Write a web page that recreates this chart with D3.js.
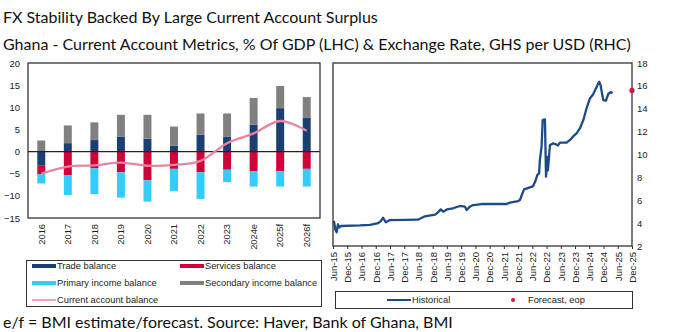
<!DOCTYPE html>
<html><head><meta charset="utf-8">
<script src="https://cdn.jsdelivr.net/npm/d3@7"></script>
<style>
html,body{margin:0;padding:0;background:#fff;overflow:hidden;}
svg{display:block;}
</style></head>
<body>
<svg id="chart" width="675" height="332"></svg>
<script>
// ---------- DATA ----------
const categories = ["2016","2017","2018","2019","2020","2021","2022","2023","2024e","2025f","2026f"];
const tradeBalance     = [-3.2, 1.9, 2.6, 3.4, 2.9, 1.35, 3.8, 3.4, 6.1, 9.8, 7.6];
const servicesBalance  = [-1.9,-5.4,-3.8,-4.7,-6.5,-3.9,-4.7,-4.1,-4.4,-4.4,-3.9];
const primaryIncome    = [-2.1,-4.4,-5.8,-5.7,-4.8,-5.0,-6.0,-2.8,-3.5,-3.5,-4.0];
const secondaryIncome  = [ 2.5, 4.0, 4.0, 4.9, 5.4, 4.3, 4.8, 5.2, 6.0, 5.0, 4.7];
const currentAccount   = [-5.0,-3.4,-3.1,-2.5,-3.2,-3.0,-2.1, 1.9, 4.1, 6.9, 4.7];
const leftTicks = [20,15,10,5,0,-5,-10,-15];

const fxDates = ["2015-06-13","2015-07-02","2015-07-18","2015-08-04","2015-08-16","2015-09-12","2016-05-12","2016-09-18","2017-01-01","2017-02-06","2017-03-03","2017-04-10","2017-06-01","2018-05-25","2018-08-24","2019-01-01","2019-02-06","2019-03-15","2019-04-15","2019-06-01","2019-08-18","2019-11-15","2020-01-18","2020-02-10","2020-03-22","2020-05-03","2020-08-21","2021-07-06","2021-08-18","2021-12-01","2021-12-24","2022-02-15","2022-05-01","2022-06-12","2022-07-16","2022-08-03","2022-08-27","2022-09-06","2022-09-28","2022-10-12","2022-11-10","2022-11-24","2022-12-10","2022-12-18","2023-01-13","2023-02-25","2023-04-28","2023-05-21","2023-08-15","2023-09-28","2023-11-10","2023-12-21","2024-02-03","2024-03-16","2024-04-27","2024-06-09","2024-07-21","2024-08-25","2024-09-24","2024-10-06","2024-10-24","2024-11-15","2024-11-27","2025-01-01","2025-01-31","2025-03-02","2025-03-26"];
const fxValues = [4.2,3.4,3.2,3.9,3.6,3.75,3.8,3.85,4.0,4.2,4.47,4.07,4.27,4.3,4.6,4.75,4.94,5.2,5.0,5.2,5.3,5.5,5.44,5.15,5.44,5.58,5.67,5.67,5.79,5.93,6.02,6.95,7.13,7.24,7.77,8.2,8.35,9.5,10.7,13.0,13.07,8.06,9.8,8.6,10.8,10.98,10.8,11.03,11.03,11.27,11.6,11.85,12.3,13.0,14.04,14.9,15.26,15.78,16.2,16.36,16.07,15.2,14.76,14.7,15.29,15.46,15.35];
const forecastDate = "2025-12-01";
const forecastValue = 15.6;
const rightTicks = [2,4,6,8,10,12,14,16,18];
const rightXTickDates = ["2015-06-01","2015-12-01","2016-06-01","2016-12-01","2017-06-01","2017-12-01","2018-06-01","2018-12-01","2019-06-01","2019-12-01","2020-06-01","2020-12-01","2021-06-01","2021-12-01","2022-06-01","2022-12-01","2023-06-01","2023-12-01","2024-06-01","2024-12-01","2025-06-01","2025-12-01"];

const title = "FX Stability Backed By Large Current Account Surplus";
const subtitle = "Ghana - Current Account Metrics, % Of GDP (LHC) & Exchange Rate, GHS per USD (RHC)";
const footer = "e/f = BMI estimate/forecast. Source: Haver, Bank of Ghana, BMI";

// ---------- STYLE ----------
const C = {trade:"#1b3f72", services:"#d10038", primary:"#33ccff", secondary:"#808080", ca:"#e8849f", fx:"#1c4b86", fcst:"#e0103c", frame:"#333"};
const AX = "'Liberation Sans', Arial, sans-serif";
const TF = "Lato, 'Noto Sans', sans-serif";

const svg = d3.select("#chart");

svg.append("text").attr("x",3).attr("y",23).attr("font-family",TF).attr("font-size",16).attr("fill","#111").text(title);
svg.append("text").attr("x",3).attr("y",50).attr("font-family",TF).attr("font-size",16).attr("fill","#111").text(subtitle);
svg.append("text").attr("x",3).attr("y",328).attr("font-family",TF).attr("font-size",16).attr("fill","#111").text(footer);

// ---------- LEFT CHART ----------
const L = {x0:28, x1:320, y0:63, y1:218};
const x = d3.scaleBand().domain(categories).range([L.x0, L.x1]).paddingInner(0.7).paddingOuter(0.35);
const y = d3.scaleLinear().domain([-15,20]).range([L.y1, L.y0]);

const rows = categories.map((c,i)=>({cat:c, trade:tradeBalance[i], services:servicesBalance[i], primary:primaryIncome[i], secondary:secondaryIncome[i]}));
const keys = ["trade","services","primary","secondary"];
const stack = d3.stack().keys(keys).offset(d3.stackOffsetDiverging)(rows);

const gL = svg.append("g");
gL.selectAll("g.series").data(stack).join("g").attr("fill", d=>C[d.key])
  .selectAll("rect").data(d=>d).join("rect")
  .attr("x", d=>x(d.data.cat)).attr("width", x.bandwidth())
  .attr("y", d=>y(Math.max(d[0],d[1]))).attr("height", d=>Math.abs(y(d[0])-y(d[1])));

gL.append("line").attr("x1",L.x0).attr("x2",L.x1).attr("y1",y(0)).attr("y2",y(0)).attr("stroke","#222").attr("stroke-width",1.2);

const caLine = d3.line().x((d,i)=>x(categories[i])+x.bandwidth()/2).y(d=>y(d)).curve(d3.curveCatmullRom.alpha(0.5));
gL.append("path").datum(currentAccount).attr("d",caLine).attr("fill","none").attr("stroke",C.ca).attr("stroke-width",2.3);

gL.append("rect").attr("x",L.x0).attr("y",L.y0).attr("width",L.x1-L.x0).attr("height",L.y1-L.y0).attr("fill","none").attr("stroke",C.frame).attr("stroke-width",1.3);

const yAx = gL.append("g").attr("transform",`translate(${L.x0},0)`).call(d3.axisLeft(y).tickValues(leftTicks).tickSize(0).tickPadding(8));
yAx.select(".domain").remove();
yAx.selectAll("text").attr("font-family",AX).attr("font-size",9.5).attr("fill","#222");

const xAx = gL.append("g").attr("transform",`translate(0,${L.y1})`).call(d3.axisBottom(x).tickSize(0).tickPadding(0));
xAx.select(".domain").remove();
xAx.selectAll("text").attr("font-family",AX).attr("font-size",9.3).attr("fill","#222")
  .attr("transform","rotate(-90)").attr("text-anchor","end").attr("dy","0.35em").attr("x",-6).attr("y",0);

const lg = svg.append("g");
lg.append("rect").attr("x",26.5).attr("y",260.5).attr("width",295).attr("height",46).attr("fill","#fff").attr("stroke",C.frame).attr("stroke-width",1);
const legItems = [
  {k:"trade", label:"Trade balance", x:32, y:266, type:"rect"},
  {k:"services", label:"Services balance", x:180, y:266, type:"rect"},
  {k:"primary", label:"Primary income balance", x:32, y:283, type:"rect"},
  {k:"secondary", label:"Secondary income balance", x:180, y:283, type:"rect"},
  {k:"ca", label:"Current account balance", x:32, y:300, type:"line"}
];
legItems.forEach(it=>{
  if(it.type==="rect") lg.append("rect").attr("x",it.x).attr("y",it.y-2).attr("width",24).attr("height",4).attr("fill",C[it.k]);
  else lg.append("line").attr("x1",it.x).attr("x2",it.x+24).attr("y1",it.y).attr("y2",it.y).attr("stroke",C.ca).attr("stroke-width",1.5);
  lg.append("text").attr("x",it.x+25).attr("y",it.y).attr("dy","0.35em").attr("font-family",AX).attr("font-size",9.3).attr("fill","#222").text(it.label);
});

// ---------- RIGHT CHART ----------
const R = {x0:333, x1:632, y0:63, y1:246};
const parse = d3.timeParse("%Y-%m-%d");
const xt = d3.scaleTime().domain([parse("2015-06-01"), parse("2025-12-01")]).range([R.x0, R.x1]);
const yr = d3.scaleLinear().domain([2,18]).range([R.y1, R.y0]);
const gR = svg.append("g");

const fx = fxDates.map((d,i)=>({d:parse(d), v:fxValues[i]}));
gR.append("path").datum(fx).attr("d", d3.line().x(d=>xt(d.d)).y(d=>yr(d.v)))
  .attr("fill","none").attr("stroke",C.fx).attr("stroke-width",2.3).attr("stroke-linejoin","round");

gR.append("rect").attr("x",R.x0).attr("y",R.y0).attr("width",R.x1-R.x0).attr("height",R.y1-R.y0).attr("fill","none").attr("stroke",C.frame).attr("stroke-width",1.3);

gR.append("circle").attr("cx",xt(parse(forecastDate))).attr("cy",yr(forecastValue)).attr("r",2.6).attr("fill",C.fcst);

const yrAx = gR.append("g").attr("transform",`translate(${R.x1},0)`).call(d3.axisRight(yr).tickValues(rightTicks).tickSize(0).tickPadding(5));
yrAx.select(".domain").remove();
yrAx.selectAll("text").attr("font-family",AX).attr("font-size",9.5).attr("fill","#222");

const xtAx = gR.append("g").attr("transform",`translate(0,${R.y1})`).call(d3.axisBottom(xt).tickValues(rightXTickDates.map(parse)).tickSize(3).tickFormat(d3.timeFormat("%b-%y")));
xtAx.select(".domain").remove();
xtAx.selectAll("line").attr("stroke","#333");
xtAx.selectAll("text").attr("font-family",AX).attr("font-size",9.5).attr("fill","#222")
  .attr("transform","rotate(-90)").attr("text-anchor","end").attr("dy","0.35em").attr("x",-6).attr("y",0);

const rg = svg.append("g");
rg.append("rect").attr("x",335.5).attr("y",291.5).attr("width",297).attr("height",17).attr("fill","#fff").attr("stroke",C.frame).attr("stroke-width",1);
rg.append("line").attr("x1",387).attr("x2",411).attr("y1",300).attr("y2",300).attr("stroke",C.fx).attr("stroke-width",2);
rg.append("text").attr("x",412).attr("y",300).attr("dy","0.35em").attr("font-family",AX).attr("font-size",9.3).attr("fill","#222").text("Historical");
rg.append("circle").attr("cx",513).attr("cy",300).attr("r",2).attr("fill",C.fcst);
rg.append("text").attr("x",528).attr("y",300).attr("dy","0.35em").attr("font-family",AX).attr("font-size",9.3).attr("fill","#222").text("Forecast, eop");
</script>
</body></html>
